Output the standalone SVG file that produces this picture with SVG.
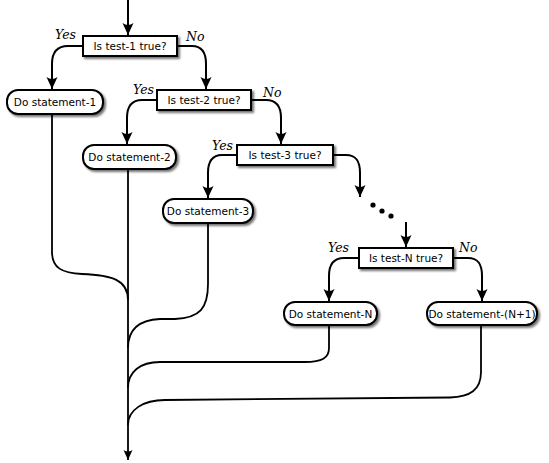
<svg xmlns="http://www.w3.org/2000/svg" width="549" height="463" viewBox="0 0 549 463">
<defs>
<filter id="sh" x="-20%" y="-30%" width="150%" height="180%">
<feDropShadow dx="2" dy="2" stdDeviation="1.3" flood-color="#000" flood-opacity="0.55"/>
</filter>
<marker id="ah" markerUnits="userSpaceOnUse" markerWidth="14" markerHeight="14" viewBox="-13 -7 14 14" refX="0" refY="0" orient="auto">
<path d="M0,0 L-12,-5.5 Q-8,0 -12,5.5 Z" fill="#000"/>
</marker>
<marker id="ahs" markerUnits="userSpaceOnUse" markerWidth="12" markerHeight="12" viewBox="-11 -6 12 12" refX="0" refY="0" orient="auto">
<path d="M0,0 L-10,-4.5 Q-7,0 -10,4.5 Z" fill="#000"/>
</marker>
</defs>
<style>
.box{fill:#fff;stroke:#000;stroke-width:2;filter:url(#sh)}
.t{font-family:"DejaVu Sans",sans-serif;font-size:10.5px;text-anchor:middle;fill:#000}
.yn{font-family:"DejaVu Serif",serif;font-style:italic;font-size:12.5px;fill:#000}
.c{fill:none;stroke:#000;stroke-width:2}
.m{fill:none;stroke:#000;stroke-width:1.8}
</style>
<g id="connectors">
<path class="c" d="M128,0 V35" marker-end="url(#ah)"/>
<path class="c" d="M83,46 H68 C58,46 52,52 52,64 V89" marker-end="url(#ah)"/>
<path class="c" d="M177,46 H192 C202,46 206,52 206,64 V89" marker-end="url(#ah)"/>
<path class="c" d="M157,100 H142 C132,100 127,106 127,118 V144" marker-end="url(#ah)"/>
<path class="c" d="M251,100 H266 C276,100 281,106 281,118 V144" marker-end="url(#ah)"/>
<path class="c" d="M237,155 H222 C212,155 208,161 208,173 V198" marker-end="url(#ah)"/>
<path class="c" d="M333,155 H346 C356,155 360,161 360,173 V197" marker-end="url(#ah)"/>
<path class="c" d="M406,222 V247" marker-end="url(#ah)"/>
<path class="c" d="M359,258 H344 C334,258 329,264 329,276 V301" marker-end="url(#ah)"/>
<path class="c" d="M453,258 H468 C478,258 482,264 482,276 V301" marker-end="url(#ah)"/>
<path class="m" d="M52,114 V252 C52,268 62,273 82,274 C112,275 128,280 128,300"/>
<path class="m" d="M208,223 V284 C208,308 200,318 175,319 L160,319 C138,320 128,330 128,348"/>
<path class="m" d="M329,325 V348 C329,358 322,362 305,362 L160,362 C140,362 128,372 128,388"/>
<path class="m" d="M481,325 V372 C481,390 470,397 450,397.5 L165,400 C143,400 128,410 128,425"/>
<path class="m" d="M128,169 V460" marker-end="url(#ahs)"/>
<circle cx="373" cy="205" r="2.6"/>
<circle cx="382" cy="211" r="2.6"/>
<circle cx="391" cy="216" r="2.6"/>
</g>
<g id="test1">
<rect class="box" x="83" y="36" width="94" height="20"/>
<text class="t" x="130" y="50">Is test-1 true?</text>
<text class="yn" x="55" y="39">Yes</text>
<text class="yn" x="186" y="41">No</text>
</g>
<g id="stmt1">
<rect class="box" x="7" y="90" width="96" height="24" rx="11"/>
<text class="t" x="55" y="106">Do statement-1</text>
</g>
<g id="test2">
<rect class="box" x="157" y="90" width="94" height="20"/>
<text class="t" x="204" y="104">Is test-2 true?</text>
<text class="yn" x="133" y="94">Yes</text>
<text class="yn" x="263" y="97">No</text>
</g>
<g id="stmt2">
<rect class="box" x="83" y="145" width="93" height="24" rx="11"/>
<text class="t" x="129.5" y="161">Do statement-2</text>
</g>
<g id="test3">
<rect class="box" x="237" y="145" width="96" height="20"/>
<text class="t" x="285" y="159">Is test-3 true?</text>
<text class="yn" x="212" y="150">Yes</text>
</g>
<g id="stmt3">
<rect class="box" x="163" y="199" width="90" height="24" rx="11"/>
<text class="t" x="208" y="215">Do statement-3</text>
</g>
<g id="testN">
<rect class="box" x="359" y="248" width="94" height="20"/>
<text class="t" x="406" y="262">Is test-N true?</text>
<text class="yn" x="328" y="252">Yes</text>
<text class="yn" x="459" y="252">No</text>
</g>
<g id="stmtN">
<rect class="box" x="284" y="302" width="93" height="23" rx="11"/>
<text class="t" x="330.5" y="317.5">Do statement-N</text>
</g>
<g id="stmtN1">
<rect class="box" x="427" y="302" width="110" height="23" rx="11"/>
<text class="t" x="482" y="317.5">Do statement-(N+1)</text>
</g>
</svg>
